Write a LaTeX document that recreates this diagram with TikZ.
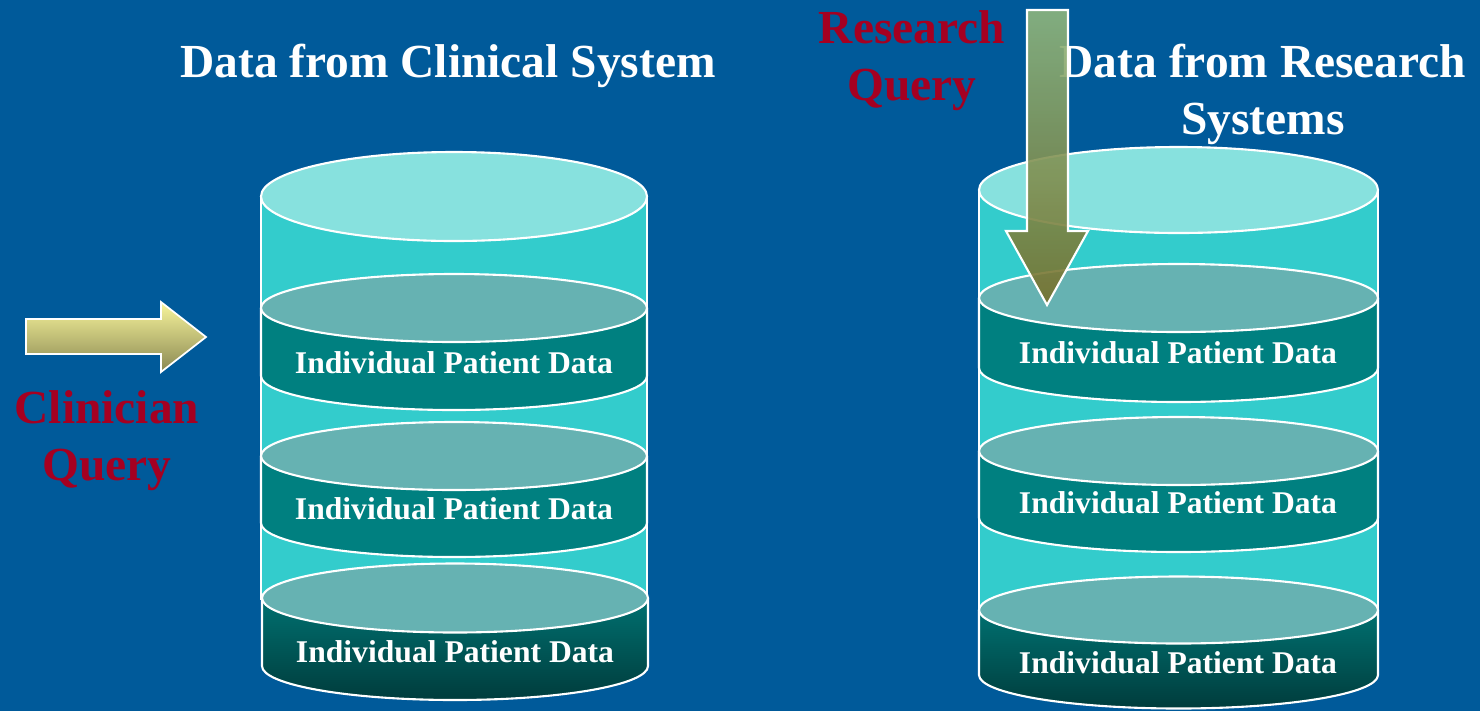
\documentclass[tikz,border=0pt]{standalone}
\usepackage{fontspec}
\setmainfont{Liberation Serif}
\usetikzlibrary{calc}

\definecolor{slidebg}{RGB}{0,90,154}
\definecolor{sidecyan}{RGB}{51,204,204}
\definecolor{lidcyan}{RGB}{135,225,222}
\definecolor{bandtop}{RGB}{102,178,178}
\definecolor{bandteal}{RGB}{0,128,128}
\definecolor{banddark}{RGB}{0,60,60}
\definecolor{queryred}{RGB}{165,0,33}
\definecolor{arrowlight}{RGB}{248,245,156}
\definecolor{arrowdark}{RGB}{138,136,82}
\definecolor{arrowgreen}{RGB}{143,182,125}
\definecolor{arrowolive}{RGB}{118,112,44}

\begin{document}
\begin{tikzpicture}[x=0.02cm,y=0.02cm,
  title/.style={text=white,font=\fontsize{27}{32.3}\selectfont\bfseries,align=center},
  query/.style={text=queryred,font=\fontsize{27}{32.3}\selectfont\bfseries,align=center},
  band label/.style={text=white,font=\fontsize{18}{21}\selectfont\bfseries},
  rim/.style={draw=white,line width=1.2pt}]

\useasboundingbox (0,0) rectangle (1480,-711);
\fill[slidebg] (0,0) rectangle (1480,-711);

% left cylinder
\coordinate (lc) at (454,-196.5);
\fill[sidecyan] (261,-196.5) rectangle (647,-600);
\draw[rim] (261,-196.5) -- (261,-600) (647,-196.5) -- (647,-600);
\fill[lidcyan,rim] (lc) ellipse [x radius=193,y radius=44.5];
\foreach \yt/\yb in {308/376,456/523}{
  \path[fill=bandteal,rim] (261,-\yt) -- (261,-\yb)
    arc[start angle=180,end angle=360,x radius=193,y radius=34] -- (647,-\yt);
  \fill[bandtop,rim] (454,-\yt) ellipse [x radius=193,y radius=34];
}
\path[top color=bandteal!88!black,bottom color=banddark,rim] (262,-598) -- (262,-666)
  arc[start angle=180,end angle=360,x radius=193,y radius=34] -- (648,-598);
\fill[bandtop,rim] (455,-598) ellipse [x radius=193,y radius=34.5];

\node[band label,anchor=base] (lrow1) at (454,-373) {Individual Patient Data};
\node[band label,anchor=base] (lrow2) at (454,-519) {Individual Patient Data};
\node[band label,anchor=base] (lrow3) at (455,-662) {Individual Patient Data};

% right cylinder
\coordinate (rc) at (1178.5,-190);
\fill[sidecyan] (979,-190) rectangle (1378,-610);
\draw[rim] (979,-190) -- (979,-610) (1378,-190) -- (1378,-610);
\fill[lidcyan,rim] (rc) ellipse [x radius=199.5,y radius=43];
\foreach \yt/\yb in {298/368,451/518}{
  \path[fill=bandteal,rim] (979,-\yt) -- (979,-\yb)
    arc[start angle=180,end angle=360,x radius=199.5,y radius=34] -- (1378,-\yt);
  \fill[bandtop,rim] (1178.5,-\yt) ellipse [x radius=199.5,y radius=34];
}
\path[top color=bandteal!88!black,bottom color=banddark,rim] (979,-610) -- (979,-675)
  arc[start angle=180,end angle=360,x radius=199.5,y radius=33.5] -- (1378,-610);
\fill[bandtop,rim] (1178.5,-610) ellipse [x radius=199.5,y radius=33.5];

\node[band label,anchor=base] (rrow1) at (1178,-363) {Individual Patient Data};
\node[band label,anchor=base] (rrow2) at (1178,-513) {Individual Patient Data};
\node[band label,anchor=base] (rrow3) at (1178,-673) {Individual Patient Data};

% headings (base sits on the last line)
\node[title,anchor=base] (clintitle) at (448,-77) {Data from Clinical System};
\node[title,anchor=base] (restitle) at (1263,-134) {Data from Research\\Systems};

% queries
\node[query,anchor=base] (clinq) at (107,-480) {Clinician\\Query};
\node[query,anchor=base] (resq) at (912,-100) {Research\\Query};

\path[top color=arrowlight,bottom color=arrowdark,draw=white,line width=1pt]
  (26,-319) -- (161,-319) -- (161,-302) -- (206,-337) -- (161,-372)
  -- (161,-354) -- (26,-354) -- cycle;
\path[top color=arrowgreen,bottom color=arrowolive,draw=white,line width=1.2pt,fill opacity=0.9]
  (1027,-10) -- (1068,-10) -- (1068,-231) -- (1088,-231) -- (1047,-305)
  -- (1006,-231) -- (1027,-231) -- cycle;

\end{tikzpicture}
\end{document}
